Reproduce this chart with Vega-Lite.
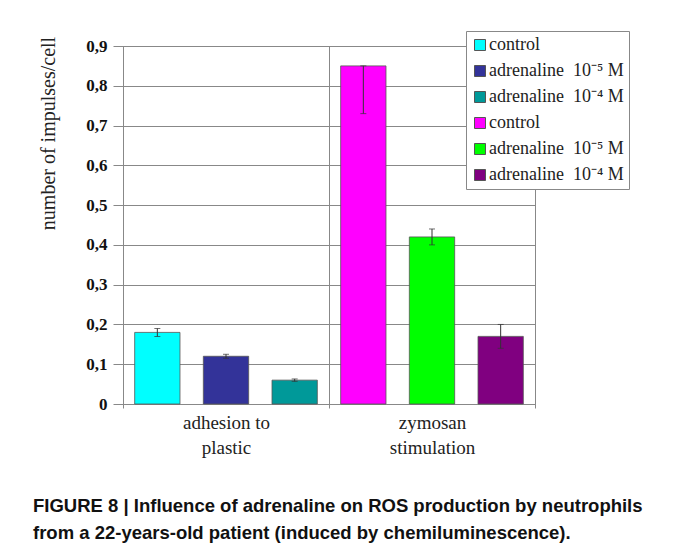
{
  "$schema": "https://vega.github.io/schema/vega-lite/v6.json",
  "width": 412,
  "height": 358,
  "autosize": {"type": "none"},
  "padding": {"left": 123, "top": 46, "right": 138, "bottom": 149},
  "background": "white",
  "title": {
    "text": [
      "FIGURE 8 | Influence of adrenaline on ROS production by neutrophils",
      "from a 22-years-old patient (induced by chemiluminescence)."
    ],
    "orient": "bottom",
    "anchor": "start",
    "frame": "group",
    "dx": -90,
    "offset": 40,
    "font": "Liberation Sans",
    "fontSize": 18.5,
    "fontWeight": "bold",
    "lineHeight": 27,
    "color": "#111111"
  },
  "data": {
    "values": [
      {"group": "adhesion to|plastic", "pos": 1, "series": "1 control", "value": 0.18, "lo": 0.17, "hi": 0.19},
      {"group": "adhesion to|plastic", "pos": 2, "series": "2 adrenaline\u00a0\u00a010⁻⁵ M", "value": 0.12, "lo": 0.115, "hi": 0.125},
      {"group": "adhesion to|plastic", "pos": 3, "series": "3 adrenaline\u00a0\u00a010⁻⁴ M", "value": 0.06, "lo": 0.057, "hi": 0.063},
      {"group": "zymosan|stimulation", "pos": 1, "series": "4 control", "value": 0.85, "lo": 0.73, "hi": 0.85},
      {"group": "zymosan|stimulation", "pos": 2, "series": "5 adrenaline\u00a0\u00a010⁻⁵ M", "value": 0.42, "lo": 0.4, "hi": 0.44},
      {"group": "zymosan|stimulation", "pos": 3, "series": "6 adrenaline\u00a0\u00a010⁻⁴ M", "value": 0.17, "lo": 0.14, "hi": 0.2}
    ]
  },
  "encoding": {
    "x": {
      "field": "group",
      "type": "nominal",
      "sort": null,
      "title": null,
      "scale": {"paddingInner": 0, "paddingOuter": 0}
    },
    "xOffset": {
      "field": "pos",
      "type": "ordinal",
      "scale": {"paddingInner": 0.34, "paddingOuter": 0.17}
    }
  },
  "layer": [
    {
      "mark": {"type": "bar", "stroke": "#555555", "strokeWidth": 0.8},
      "encoding": {
        "y": {
          "field": "value",
          "type": "quantitative",
          "title": "number of impulses/cell",
          "scale": {"domain": [0, 0.9], "nice": false}
        },
        "color": {
          "field": "series",
          "type": "nominal",
          "scale": {
            "domain": [
              "1 control",
              "2 adrenaline\u00a0\u00a010⁻⁵ M",
              "3 adrenaline\u00a0\u00a010⁻⁴ M",
              "4 control",
              "5 adrenaline\u00a0\u00a010⁻⁵ M",
              "6 adrenaline\u00a0\u00a010⁻⁴ M"
            ],
            "range": ["#00FFFF", "#333399", "#009999", "#FF00FF", "#00FF00", "#800080"]
          },
          "legend": {"title": null, "labelExpr": "slice(datum.label, 2)"}
        }
      }
    },
    {
      "mark": {"type": "rule", "color": "#333333", "strokeWidth": 1},
      "encoding": {
        "y": {"field": "lo", "type": "quantitative", "title": "number of impulses/cell"},
        "y2": {"field": "hi"}
      }
    },
    {
      "mark": {"type": "tick", "size": 6, "thickness": 1, "color": "#333333"},
      "encoding": {
        "y": {"field": "lo", "type": "quantitative", "title": "number of impulses/cell"}
      }
    },
    {
      "mark": {"type": "tick", "size": 6, "thickness": 1, "color": "#333333"},
      "encoding": {
        "y": {"field": "hi", "type": "quantitative", "title": "number of impulses/cell"}
      }
    }
  ],
  "config": {
    "view": {"stroke": "#888888", "strokeWidth": 1},
    "axisY": {
      "tickCount": 9,
      "grid": true,
      "gridColor": "#888888",
      "gridWidth": 1,
      "domainColor": "#888888",
      "tickColor": "#888888",
      "tickSize": 10,
      "labelPadding": 6,
      "labelFont": "Liberation Serif",
      "labelFontSize": 17,
      "labelFontWeight": "bold",
      "labelColor": "#111111",
      "labelExpr": "datum.value == 0 ? '0' : replace(format(datum.value, '.1f'), '.', ',')",
      "titleFont": "Liberation Serif",
      "titleFontSize": 20,
      "titleFontWeight": "normal",
      "titleColor": "#222222",
      "titleX": -75,
      "titleY": 87,
      "titleAlign": "center",
      "titleBaseline": "middle",
      "titleAngle": -90
    },
    "axisX": {
      "grid": true,
      "tickBand": "extent",
      "gridColor": "#888888",
      "gridWidth": 1,
      "domainColor": "#888888",
      "tickColor": "#888888",
      "tickSize": 4,
      "labelAngle": 0,
      "labelPadding": 5,
      "labelFont": "Liberation Serif",
      "labelFontSize": 19,
      "labelColor": "#222222",
      "labelLineHeight": 25,
      "labelExpr": "split(datum.label, '|')"
    },
    "legend": {
      "orient": "none",
      "legendX": 343,
      "legendY": -15,
      "strokeColor": "#888888",
      "fillColor": "white",
      "padding": 5,
      "symbolType": "square",
      "symbolSize": 121,
      "symbolStrokeColor": "#555555",
      "symbolStrokeWidth": 1,
      "symbolOpacity": 1,
      "labelFont": "Liberation Serif",
      "labelFontSize": 18,
      "labelColor": "#222222",
      "labelOffset": 0,
      "rowPadding": 8
    }
  }
}
